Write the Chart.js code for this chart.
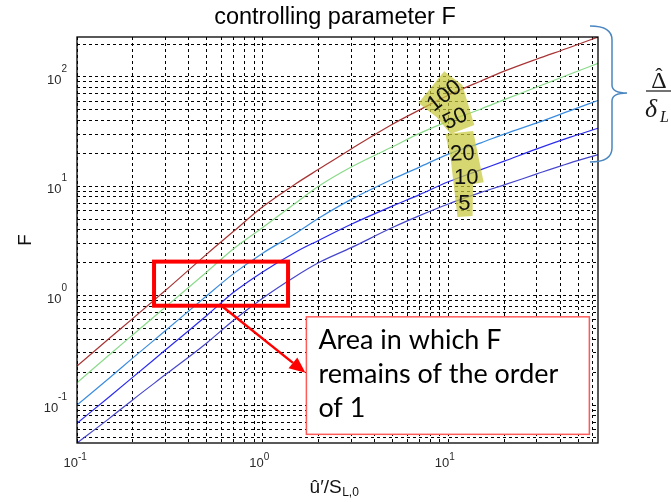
<!DOCTYPE html>
<html>
<head>
<meta charset="utf-8">
<script src="https://cdn.jsdelivr.net/npm/chart.js@4.4.1/dist/chart.umd.min.js"></script>
<style>
  html, body { margin: 0; padding: 0; background: #ffffff; }
  #wrap { width: 671px; height: 502px; position: relative; }
</style>
</head>
<body>
<div id="wrap"><canvas id="c" width="671" height="502"></canvas></div>
<script>
// ---------------- data ----------------
const xValues = [0.1, 0.15, 0.2, 0.3, 0.5, 0.7, 1, 1.5, 2, 3, 5, 7, 10, 15, 20, 30, 45, 64];
const ratioLabels = ['100', '50', '20', '10', '5'];
const F100 = [0.227, 0.41, 0.62, 1.12, 2.4, 3.9, 6.5, 10.5, 14.3, 22, 37, 50, 68, 92, 113, 146, 186, 232];
const F50  = [0.16, 0.29, 0.44, 0.79, 1.65, 2.7, 4.2, 7.0, 10, 15, 23, 30.5, 39.5, 51, 62, 81, 106, 133];
const F20  = [0.1, 0.178, 0.27, 0.48, 1.0, 1.6, 2.45, 3.7, 5.1, 7.6, 11.6, 15, 19.7, 25, 30, 38, 49, 61];
const F10  = [0.068, 0.12, 0.18, 0.32, 0.66, 1.08, 1.65, 2.5, 3.2, 4.5, 6.6, 8.4, 11.0, 14.2, 17, 22, 28, 34];
const F5   = [0.045, 0.076, 0.112, 0.19, 0.37, 0.6, 0.95, 1.5, 2.0, 2.75, 4.2, 5.4, 6.9, 8.8, 10.3, 13, 16.3, 19.5];
const seriesColors = ['#a83434', '#8ada8a', '#3a8ce0', '#2a2af0', '#4646cc'];

const xTickValues = [0.1, 0.2, 0.3, 0.4, 0.5, 0.6, 0.7, 0.8, 0.9, 1, 2, 3, 4, 5, 6, 7, 8, 9, 10, 20, 30, 40, 50, 60];
const yTickValues = [0.05, 0.06, 0.07, 0.08, 0.09, 0.1, 0.2, 0.3, 0.4, 0.5, 0.6, 0.7, 0.8, 0.9,
                     1, 2, 3, 4, 5, 6, 7, 8, 9, 10, 20, 30, 40, 50, 60, 70, 80, 90, 100, 200];
const xRange = [0.1, 64];
const yRange = [0.045, 232];

const titleText = 'controlling parameter F';
const yAxisTitle = 'F';

// annotations (in data units)
const boxRegion = { x: [0.26, 1.37], y: [0.81, 2.05] };
const arrowFrom = [0.60, 0.81];
const arrowTo = [1.70, 0.197];
const noteBox = { x: [1.72, 57.5], y: [0.054, 0.641] };
const noteLines = ['Area in which F', 'remains of the order', 'of 1'];
const patchA = [[9.5, 113], [11.9, 84.4], [13.8, 36.3], [10.3, 30.1], [8.63, 43], [6.9, 57.7]];
const patchB = [[9.64, 30.1], [13.6, 32], [15.5, 10.9], [13.6, 10.5], [13.5, 5.36], [11.2, 5.24], [10.3, 17.8]];
const ratioLabelPos = [[9.53, 66.9, -38], [10.9, 41.2, -25], [11.9, 19.7, -3], [12.5, 11.9, 0], [12.2, 6.89, 0]];

// ---------------- helpers ----------------
function isDecade(v) { const l = Math.log10(v); return Math.abs(l - Math.round(l)) < 1e-9; }
const SANS = '"Liberation Sans", Arial, Helvetica, sans-serif';
const SERIF = '"Liberation Serif", "Times New Roman", serif';

const datasets = [F100, F50, F20, F10, F5].map((arr, i) => ({
  label: ratioLabels[i],
  data: xValues.map((xv, j) => ({ x: xv, y: arr[j] })),
  borderColor: seriesColors[i],
  backgroundColor: seriesColors[i],
  borderWidth: 1.2,
  pointRadius: 0,
  fill: false,
  cubicInterpolationMode: 'monotone'
}));

const overlay = {
  id: 'overlay',
  afterDatasetsDraw(chart) {
    const { ctx, chartArea: a, scales: { x, y } } = chart;
    const P = (xv, yv) => [x.getPixelForValue(xv), y.getPixelForValue(yv)];
    ctx.save();
    // frame
    ctx.strokeStyle = '#000';
    ctx.lineWidth = 1.3;
    ctx.strokeRect(a.left, a.top, a.right - a.left, a.bottom - a.top);

    // yellow patches
    ctx.fillStyle = 'rgba(200,200,60,0.72)';
    [patchA, patchB].forEach(poly => {
      ctx.beginPath();
      poly.forEach((p, i) => { const [px, py] = P(p[0], p[1]); i ? ctx.lineTo(px, py) : ctx.moveTo(px, py); });
      ctx.closePath();
      ctx.fill();
    });
    ctx.fillStyle = '#111';
    ctx.font = '22px ' + SANS;
    ctx.textAlign = 'center';
    ctx.textBaseline = 'middle';
    ratioLabelPos.forEach((p, i) => {
      const [px, py] = P(p[0], p[1]);
      ctx.save();
      ctx.translate(px, py);
      ctx.rotate(p[2] * Math.PI / 180);
      ctx.fillText(ratioLabels[i], 0, 0);
      ctx.restore();
    });

    // red rectangle
    const [rx1, ry1] = P(boxRegion.x[0], boxRegion.y[1]);
    const [rx2, ry2] = P(boxRegion.x[1], boxRegion.y[0]);
    ctx.strokeStyle = '#ff0000';
    ctx.lineWidth = 4;
    ctx.strokeRect(rx1, ry1, rx2 - rx1, ry2 - ry1);

    // arrow
    const [ax1, ay1] = P(arrowFrom[0], arrowFrom[1]);
    const [ax2, ay2] = P(arrowTo[0], arrowTo[1]);
    const ang = Math.atan2(ay2 - ay1, ax2 - ax1);
    const hl = 16, hw = 7;
    const bx = ax2 - hl * Math.cos(ang), by = ay2 - hl * Math.sin(ang);
    ctx.lineWidth = 2.5;
    ctx.beginPath(); ctx.moveTo(ax1, ay1); ctx.lineTo(bx, by); ctx.stroke();
    ctx.fillStyle = '#ff0000';
    ctx.beginPath();
    ctx.moveTo(ax2, ay2);
    ctx.lineTo(bx + hw * Math.sin(ang), by - hw * Math.cos(ang));
    ctx.lineTo(bx - hw * Math.sin(ang), by + hw * Math.cos(ang));
    ctx.closePath(); ctx.fill();

    // note box
    const [nx1, ny1] = P(noteBox.x[0], noteBox.y[1]);
    const [nx2, ny2] = P(noteBox.x[1], noteBox.y[0]);
    ctx.fillStyle = '#ffffff';
    ctx.fillRect(nx1, ny1, nx2 - nx1, ny2 - ny1);
    ctx.strokeStyle = '#ff5a5a';
    ctx.lineWidth = 1.5;
    ctx.strokeRect(nx1, ny1, nx2 - nx1, ny2 - ny1);
    ctx.font = '24px Lato, "Open Sans", sans-serif';
    const target = 240;
    const fs = 24 * target / ctx.measureText(noteLines[1]).width;
    ctx.font = fs.toFixed(2) + 'px Lato, "Open Sans", sans-serif';
    ctx.fillStyle = '#000';
    ctx.textAlign = 'left';
    ctx.textBaseline = 'alphabetic';
    noteLines.forEach((t, i) => ctx.fillText(t, nx1 + 12, ny1 + 32 + i * 34));

    ctx.restore();
  },
  afterDraw(chart) {
    const { ctx, chartArea: a, scales: { x, y } } = chart;
    ctx.save();
    ctx.textBaseline = 'alphabetic';

    // title
    ctx.fillStyle = '#000';
    ctx.textAlign = 'center';
    ctx.font = '23.5px ' + SANS;
    ctx.fillText(titleText, 335, 24);

    // decade tick labels with superscript exponents
    ctx.fillStyle = '#2a2a2a';
    xTickValues.filter(isDecade).forEach(v => {
      const px = x.getPixelForValue(v);
      const e = String(Math.round(Math.log10(v)));
      ctx.font = '13px ' + SANS;
      ctx.textAlign = 'right';
      ctx.fillText('10', px + 1, a.bottom + 24);
      ctx.font = '10px ' + SANS;
      ctx.textAlign = 'left';
      ctx.fillText(e, px + 1, a.bottom + 17);
    });
    yTickValues.filter(isDecade).forEach(v => {
      const py = y.getPixelForValue(v);
      const e = String(Math.round(Math.log10(v)));
      ctx.font = '10px ' + SANS;
      const we = ctx.measureText(e).width;
      const rx = a.left - 10;
      ctx.textAlign = 'right';
      ctx.fillText(e, rx, py - 5);
      ctx.font = '13px ' + SANS;
      ctx.fillText('10', rx - we, py + 7);
    });

    // x-axis label with subscript
    const main = 'û\u2032/S', sub = 'L,0';
    ctx.font = '19px ' + SANS;
    const w1 = ctx.measureText(main).width;
    ctx.font = '12px ' + SANS;
    const w2 = ctx.measureText(sub).width;
    const sx = 334 - (w1 + w2) / 2;
    ctx.fillStyle = '#111';
    ctx.textAlign = 'left';
    ctx.font = '19px ' + SANS;
    ctx.fillText(main, sx, a.bottom + 50);
    ctx.font = '12px ' + SANS;
    ctx.fillText(sub, sx + w1 + 0.5, a.bottom + 53);

    // brace
    const bl = a.right - 8, bm = a.right + 14, bt = a.right + 29;
    const top = 26, mid = 93, bot = 162;
    ctx.strokeStyle = '#4a86c0';
    ctx.lineWidth = 1.5;
    ctx.beginPath();
    ctx.moveTo(bl, top);
    ctx.quadraticCurveTo(bm, top, bm, top + 14);
    ctx.lineTo(bm, mid - 8);
    ctx.quadraticCurveTo(bm, mid, bt, mid);
    ctx.quadraticCurveTo(bm, mid, bm, mid + 8);
    ctx.lineTo(bm, bot - 14);
    ctx.quadraticCurveTo(bm, bot, bl, bot);
    ctx.stroke();

    // Delta-hat over delta_L
    ctx.fillStyle = '#1a1a1a';
    ctx.textAlign = 'center';
    ctx.font = '24px ' + SERIF;
    ctx.fillText('\u0394', 659, 88);
    ctx.font = '22px ' + SERIF;
    ctx.fillText('\u02C6', 659, 83);
    ctx.strokeStyle = '#444';
    ctx.lineWidth = 1.5;
    ctx.beginPath(); ctx.moveTo(646, 91); ctx.lineTo(671, 91); ctx.stroke();
    ctx.font = 'italic 26px ' + SERIF;
    ctx.textAlign = 'left';
    ctx.fillText('\u03B4', 645, 117);
    ctx.font = 'italic 16px ' + SERIF;
    ctx.fillText('L', 660, 122);
    ctx.restore();
  }
};

new Chart(document.getElementById('c'), {
  type: 'line',
  data: { datasets },
  options: {
    responsive: false,
    animation: false,
    devicePixelRatio: 1,
    layout: { padding: { left: 0, right: 73, top: 37, bottom: 0 } },
    plugins: {
      legend: { display: false },
      tooltip: { enabled: false },
      title: { display: false }
    },
    scales: {
      x: {
        type: 'logarithmic',
        min: xRange[0], max: xRange[1],
        afterBuildTicks: s => { s.ticks = xTickValues.map(v => ({ value: v, major: isDecade(v) })); },
        afterFit: s => { s.height = 59; },
        ticks: { display: false, autoSkip: false, maxRotation: 0 },
        grid: { color: '#000', lineWidth: 1, drawTicks: false },
        border: { display: false, dash: [3, 3] }
      },
      y: {
        type: 'logarithmic',
        min: yRange[0], max: yRange[1],
        afterBuildTicks: s => { s.ticks = yTickValues.map(v => ({ value: v, major: isDecade(v) })); },
        afterFit: s => { s.width = 77; },
        ticks: { display: false, autoSkip: false },
        grid: { color: '#000', lineWidth: 1, drawTicks: false },
        border: { display: false, dash: [3, 3] },
        title: {
          display: true, text: yAxisTitle, color: '#111',
          font: { family: SANS, size: 19 },
          padding: { top: 14, bottom: 0 }
        }
      }
    }
  },
  plugins: [overlay]
});
</script>
</body>
</html>
